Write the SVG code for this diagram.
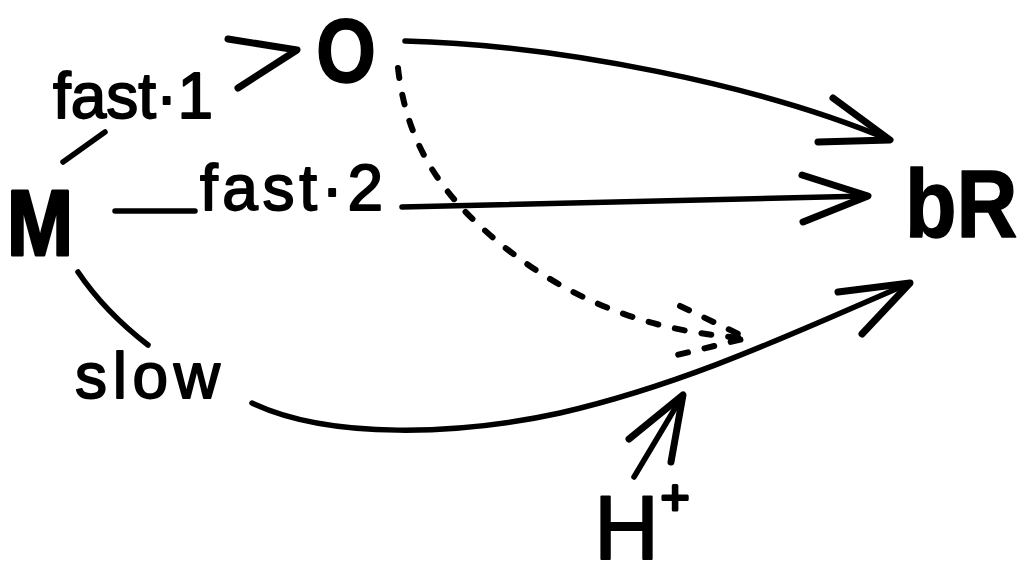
<svg xmlns="http://www.w3.org/2000/svg" width="1028" height="567" viewBox="0 0 1028 567">
<style>
.lbl{font-family:"Liberation Sans",Arial,sans-serif;font-size:64px;fill:#000;stroke:#000;stroke-width:1.8;stroke-linejoin:round}
.big{font-family:"Liberation Sans",Arial,sans-serif;font-weight:bold;fill:#000;stroke:#000;stroke-width:1.5;stroke-linejoin:round}
.ln{fill:none;stroke:#000;stroke-width:5.5;stroke-linecap:round;stroke-linejoin:round}
.hd{fill:none;stroke:#000;stroke-width:7;stroke-linecap:round;stroke-linejoin:round}
.dash{fill:none;stroke:#000;stroke-width:6;stroke-linecap:round;stroke-dasharray:10 17}
</style>
<rect width="1028" height="567" fill="#fff"/>
<g id="connectors">
  <!-- M to O (fast·1) -->
  <path class="ln" d="M63,162 L105,132"/>
  <path class="hd" d="M228,39 L297,50 L238,88"/>
  <!-- M to bR (fast·2) -->
  <path class="ln" d="M115,211 L195,211"/>
  <path class="ln" d="M402,207 L868,196"/>
  <path class="hd" d="M802,175 L868,196 L803,222"/>
  <!-- M to bR (slow) -->
  <path class="ln" d="M78,272 Q105,312 148,345"/>
  <path class="ln" d="M252,403 C330,440 460,435 560,413 C690,383 800,330 910,283"/>
  <path class="hd" d="M838,292 L910,283 L862,334"/>
  <!-- O to bR -->
  <path class="ln" d="M405,41 C560,45 760,85 890,140"/>
  <path class="hd" d="M833,98 L890,140 L818,142"/>
  <!-- O dashed -->
  <path class="dash" d="M398,68 C405,130 430,180 480,226 C560,300 650,332 745,338"/>
  <path class="dash" d="M680,306 L747,338 L677,355"/>
  <!-- H+ arrow -->
  <path class="ln" d="M634,477 L683,395"/>
  <path class="hd" d="M629,439 L683,395 L671,462"/>
</g>
<g id="node-M">
  <text class="big" x="7" y="255" style="font-size:92px;stroke-width:3px" textLength="66" lengthAdjust="spacingAndGlyphs">M</text>
</g>
<g id="node-O">
  <text class="big" x="316" y="82" style="font-size:90px" textLength="60" lengthAdjust="spacingAndGlyphs">O</text>
</g>
<g id="node-bR">
  <text class="big" transform="translate(905,237) scale(0.87,1)" style="font-size:97px">bR</text>
</g>
<g id="node-H">
  <text class="lbl" style="font-size:90px;stroke-width:2px"><tspan x="594" y="559">H</tspan><tspan x="675" y="514" style="font-size:50px;stroke-width:3px" text-anchor="middle">+</tspan></text>
</g>
<g id="labels">
  <text class="lbl" x="53" y="118" textLength="160" lengthAdjust="spacing">fast·1</text>
  <text class="lbl" x="200" y="210" textLength="183" lengthAdjust="spacing">fast·2</text>
  <text class="lbl" x="75" y="398" textLength="145" lengthAdjust="spacing">slow</text>
</g>
</svg>
